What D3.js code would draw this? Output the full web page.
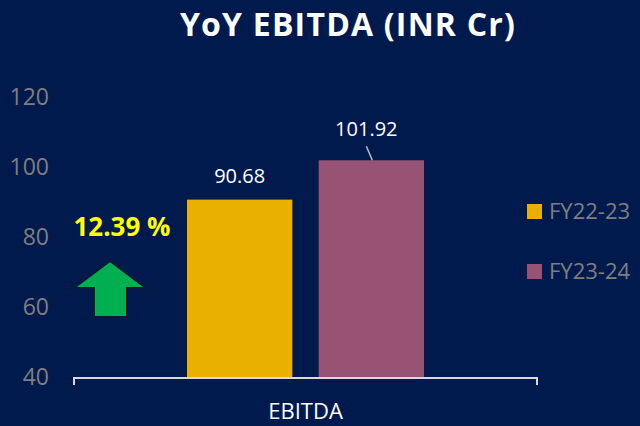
<!DOCTYPE html>
<html lang="en">
<head>
<meta charset="utf-8">
<title>YoY EBITDA</title>
<script src="https://d3js.org/d3.v7.min.js"></script>
<style>
  body { margin: 0; padding: 0; background: #001a4d; }
  svg { display: block; font-family: 'Open Sans', 'Noto Sans', sans-serif; }
</style>
</head>
<body>
<div id="chart"></div>
<script>
// data
var categories = ["EBITDA"];
var seriesNames = ["FY22-23", "FY23-24"];
var seriesValues = [90.68, 101.92];
var seriesColors = ["#e9b000", "#985274"];
var yTicks = [40, 60, 80, 100, 120];
var growthLabel = "12.39 %";

var W = 640, H = 426;
var margin = {top: 97, right: 103, bottom: 49, left: 74};
var width = W - margin.left - margin.right,
    height = H - margin.top - margin.bottom;

var svg = d3.select("#chart").append("svg")
    .attr("width", W).attr("height", H);

svg.append("rect").attr("width", W).attr("height", H).attr("fill", "#001a4d");

// title
svg.append("text")
    .attr("x", 348).attr("y", 36)
    .attr("text-anchor", "middle")
    .attr("fill", "#ffffff")
    .style("font-size", "32px").style("font-weight", "bold")
    .style("letter-spacing", "1.2px")
    .text("YoY EBITDA (INR Cr)");

var g = svg.append("g").attr("transform", "translate(" + margin.left + "," + margin.top + ")");

var x0 = d3.scaleBand().domain(categories).range([0, width]).paddingInner(0).paddingOuter(0);
var x1 = d3.scaleBand().domain(seriesNames).range([113, x0.bandwidth() - 113]).paddingInner(0.2);
var y = d3.scaleLinear().domain([40, 120]).range([height, 0]);

// y tick labels (no axis line)
var yAxis = g.append("g")
    .call(d3.axisLeft(y).tickValues(yTicks).tickSize(0).tickPadding(25));
yAxis.select(".domain").remove();
yAxis.selectAll("text")
    .attr("fill", "#7f7f7f")
    .style("font-size", "23px")
    .style("font-family", "'Open Sans', sans-serif");

// bars
var cat = g.selectAll(".cat").data(categories).enter().append("g")
    .attr("transform", function(d) { return "translate(" + x0(d) + ",0)"; });

cat.selectAll("rect").data(seriesNames).enter().append("rect")
    .attr("x", function(d) { return x1(d); })
    .attr("width", x1.bandwidth())
    .attr("y", function(d, i) { return y(seriesValues[i]); })
    .attr("height", function(d, i) { return height - y(seriesValues[i]); })
    .attr("fill", function(d, i) { return seriesColors[i]; });

// data labels
cat.selectAll(".lbl").data(seriesNames).enter().append("text")
    .attr("class", "lbl")
    .attr("x", function(d, i) { return x1(d) + x1.bandwidth() / 2 + (i === 1 ? -5 : 0); })
    .attr("y", function(d, i) { return y(seriesValues[i]) - (i === 1 ? 24 : 17); })
    .attr("text-anchor", "middle")
    .attr("fill", "#ffffff")
    .style("font-size", "20px")
    .text(function(d, i) { return seriesValues[i].toFixed(2); });

// leader line on second label
cat.append("line")
    .attr("x1", x1(seriesNames[1]) + x1.bandwidth() / 2 - 5)
    .attr("y1", y(seriesValues[1]) - 14)
    .attr("x2", x1(seriesNames[1]) + x1.bandwidth() / 2 + 1)
    .attr("y2", y(seriesValues[1]))
    .attr("stroke", "#bfbfbf").attr("stroke-width", 1.5);

// x axis bracket line
var xAxis = g.append("g").attr("transform", "translate(0," + (height + 1) + ")")
    .call(d3.axisBottom(x0).tickSizeOuter(7).tickSizeInner(0).tickPadding(24));
xAxis.select(".domain")
    .attr("stroke", "#d9d9d9").attr("stroke-width", 2)
    .attr("d", "M0,7V0H" + width + "V7");
xAxis.selectAll("text")
    .attr("fill", "#ffffff")
    .attr("dy", null)
    .attr("y", 41)
    .style("font-size", "22px")
    .style("font-family", "'Open Sans', sans-serif");

// growth label
svg.append("text")
    .attr("x", 122).attr("y", 236)
    .attr("text-anchor", "middle")
    .attr("fill", "#ffff00")
    .style("font-size", "26px").style("font-weight", "bold")
    .text(growthLabel);

// up arrow
svg.append("path")
    .attr("d", "M110,261 L146,288 L127,288 L127,317 L94,317 L94,288 L74,288 Z")
    .attr("fill", "#00b050")
    .attr("stroke", "#0b1838").attr("stroke-width", 2);

// legend
var legend = svg.selectAll(".leg").data(seriesNames).enter().append("g")
    .attr("transform", function(d, i) { return "translate(527," + (204 + i * 60) + ")"; });
legend.append("rect")
    .attr("width", 15).attr("height", 15)
    .attr("fill", function(d, i) { return seriesColors[i]; });
legend.append("text")
    .attr("x", 22).attr("y", 15)
    .attr("fill", "#7f7f7f")
    .style("font-size", "22px")
    .text(function(d) { return d; });
</script>
</body>
</html>
